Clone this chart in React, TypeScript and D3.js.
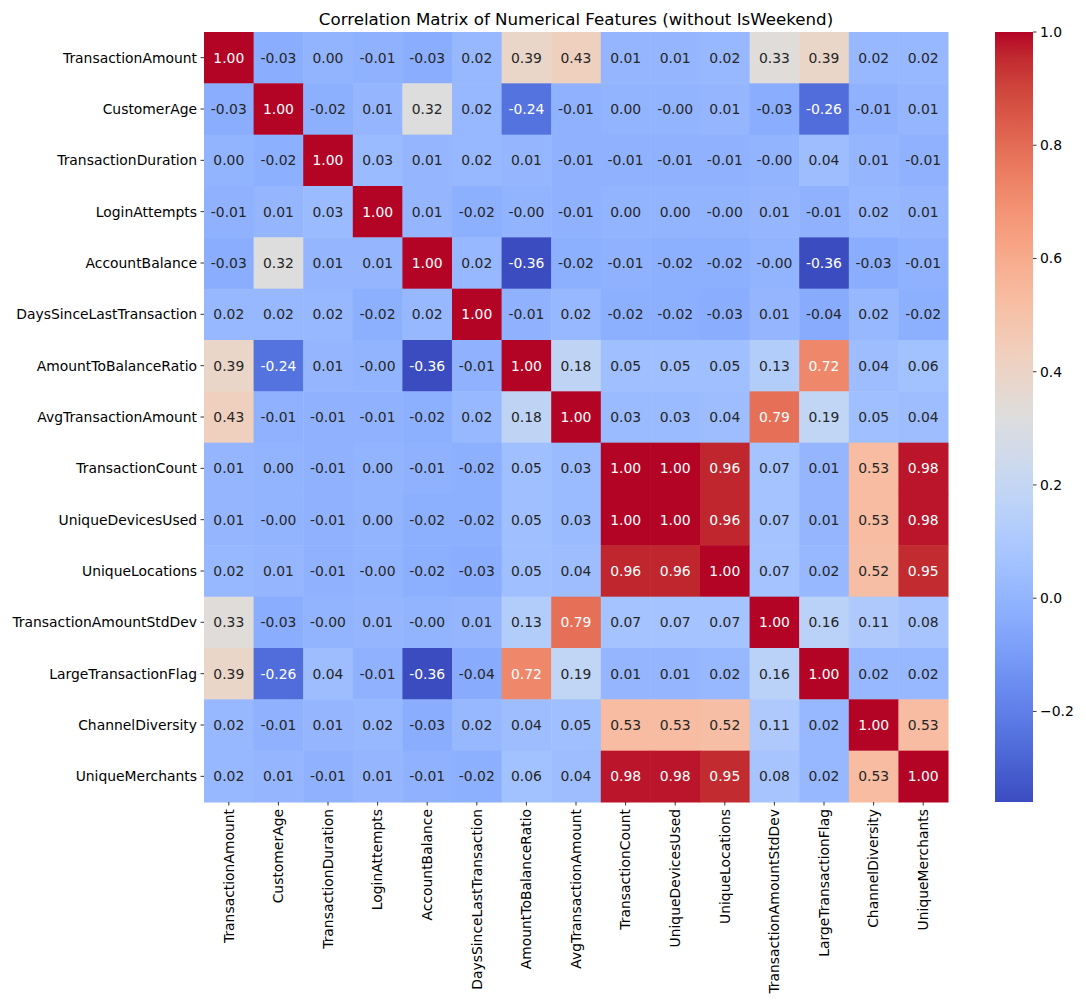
import React from "react";
import * as d3 from "d3";

const features = [
  "TransactionAmount",
  "CustomerAge",
  "TransactionDuration",
  "LoginAttempts",
  "AccountBalance",
  "DaysSinceLastTransaction",
  "AmountToBalanceRatio",
  "AvgTransactionAmount",
  "TransactionCount",
  "UniqueDevicesUsed",
  "UniqueLocations",
  "TransactionAmountStdDev",
  "LargeTransactionFlag",
  "ChannelDiversity",
  "UniqueMerchants",
];

// correlation rows, same order as features (-0 keeps the "-0.00" cells)
const rowTransactionAmount = [1.0, -0.03, 0.0, -0.01, -0.03, 0.02, 0.39, 0.43, 0.01, 0.01, 0.02, 0.33, 0.39, 0.02, 0.02];
const rowCustomerAge = [-0.03, 1.0, -0.02, 0.01, 0.32, 0.02, -0.24, -0.01, 0.0, -0, 0.01, -0.03, -0.26, -0.01, 0.01];
const rowTransactionDuration = [0.0, -0.02, 1.0, 0.03, 0.01, 0.02, 0.01, -0.01, -0.01, -0.01, -0.01, -0, 0.04, 0.01, -0.01];
const rowLoginAttempts = [-0.01, 0.01, 0.03, 1.0, 0.01, -0.02, -0, -0.01, 0.0, 0.0, -0, 0.01, -0.01, 0.02, 0.01];
const rowAccountBalance = [-0.03, 0.32, 0.01, 0.01, 1.0, 0.02, -0.36, -0.02, -0.01, -0.02, -0.02, -0, -0.36, -0.03, -0.01];
const rowDaysSinceLast = [0.02, 0.02, 0.02, -0.02, 0.02, 1.0, -0.01, 0.02, -0.02, -0.02, -0.03, 0.01, -0.04, 0.02, -0.02];
const rowAmountToBalance = [0.39, -0.24, 0.01, -0, -0.36, -0.01, 1.0, 0.18, 0.05, 0.05, 0.05, 0.13, 0.72, 0.04, 0.06];
const rowAvgTransaction = [0.43, -0.01, -0.01, -0.01, -0.02, 0.02, 0.18, 1.0, 0.03, 0.03, 0.04, 0.79, 0.19, 0.05, 0.04];
const rowTransactionCount = [0.01, 0.0, -0.01, 0.0, -0.01, -0.02, 0.05, 0.03, 1.0, 1.0, 0.96, 0.07, 0.01, 0.53, 0.98];
const rowUniqueDevices = [0.01, -0, -0.01, 0.0, -0.02, -0.02, 0.05, 0.03, 1.0, 1.0, 0.96, 0.07, 0.01, 0.53, 0.98];
const rowUniqueLocations = [0.02, 0.01, -0.01, -0, -0.02, -0.03, 0.05, 0.04, 0.96, 0.96, 1.0, 0.07, 0.02, 0.52, 0.95];
const rowAmountStdDev = [0.33, -0.03, -0, 0.01, -0, 0.01, 0.13, 0.79, 0.07, 0.07, 0.07, 1.0, 0.16, 0.11, 0.08];
const rowLargeFlag = [0.39, -0.26, 0.04, -0.01, -0.36, -0.04, 0.72, 0.19, 0.01, 0.01, 0.02, 0.16, 1.0, 0.02, 0.02];
const rowChannelDiversity = [0.02, -0.01, 0.01, 0.02, -0.03, 0.02, 0.04, 0.05, 0.53, 0.53, 0.52, 0.11, 0.02, 1.0, 0.53];
const rowUniqueMerchants = [0.02, 0.01, -0.01, 0.01, -0.01, -0.02, 0.06, 0.04, 0.98, 0.98, 0.95, 0.08, 0.02, 0.53, 1.0];

const matrix = [
  rowTransactionAmount,
  rowCustomerAge,
  rowTransactionDuration,
  rowLoginAttempts,
  rowAccountBalance,
  rowDaysSinceLast,
  rowAmountToBalance,
  rowAvgTransaction,
  rowTransactionCount,
  rowUniqueDevices,
  rowUniqueLocations,
  rowAmountStdDev,
  rowLargeFlag,
  rowChannelDiversity,
  rowUniqueMerchants,
];

const title = "Correlation Matrix of Numerical Features (without IsWeekend)";

// matplotlib "coolwarm" control points
const coolwarm: [number, number, number][] = [
  [0.2298057, 0.298717966, 0.753683153],
  [0.26623388, 0.353094838, 0.801466763],
  [0.30386891, 0.406535296, 0.84495867],
  [0.342804478, 0.458757618, 0.883725899],
  [0.38301334, 0.50941904, 0.917387822],
  [0.424369608, 0.558148092, 0.945619588],
  [0.46666708, 0.604562568, 0.968154911],
  [0.509635204, 0.648280772, 0.98478814],
  [0.552953156, 0.688929332, 0.995375608],
  [0.596262162, 0.726149107, 0.999836203],
  [0.639176211, 0.759599947, 0.998151185],
  [0.681291281, 0.788964712, 0.990363227],
  [0.722193294, 0.813952739, 0.976574709],
  [0.761464949, 0.834302879, 0.956945269],
  [0.798691636, 0.849786142, 0.931688648],
  [0.833466556, 0.860207984, 0.901068838],
  [0.865395197, 0.86541021, 0.865395561],
  [0.897787179, 0.848937047, 0.820880546],
  [0.924127593, 0.827384882, 0.774508472],
  [0.944468518, 0.800927443, 0.726736146],
  [0.958852946, 0.769767752, 0.678007945],
  [0.96732803, 0.734132809, 0.628751763],
  [0.969954137, 0.694266682, 0.579375448],
  [0.966811177, 0.650421156, 0.530263762],
  [0.958003065, 0.602842431, 0.481775914],
  [0.943660866, 0.551750968, 0.434243684],
  [0.923944917, 0.49730856, 0.387970225],
  [0.89904617, 0.439559467, 0.343229596],
  [0.869186849, 0.378313092, 0.300267182],
  [0.834620542, 0.312874446, 0.259301199],
  [0.795631745, 0.24128379, 0.220525627],
  [0.752534934, 0.157246067, 0.184115123],
  [0.705673158, 0.01555616, 0.150232812],
];

const coolwarmInterp = d3.interpolateRgbBasis
  ? d3.piecewise(
      d3.interpolateRgb,
      coolwarm.map(([r, g, b]) => d3.rgb(r * 255, g * 255, b * 255).toString())
    )
  : () => "#ccc";

// same rule seaborn uses to pick annotation colour
const luminance = (c: string) => {
  const { r, g, b } = d3.rgb(c);
  const lin = [r, g, b].map((v) => {
    const s = v / 255;
    return s <= 0.03928 ? s / 12.92 : Math.pow((s + 0.055) / 1.055, 2.4);
  });
  return 0.2126 * lin[0] + 0.7152 * lin[1] + 0.0722 * lin[2];
};

const fmtCell = (v: number) =>
  (v < 0 || Object.is(v, -0) ? "-" : "") + Math.abs(v).toFixed(2);

const App = () => {
  const W = 1086,
    H = 1006;
  const left = 204,
    top = 32,
    mapW = 744,
    mapH = 770;
  const cbX = 995,
    cbW = 38;
  const font = "'DejaVu Sans', sans-serif";

  const all = matrix.flat();
  const [vmin, vmax] = d3.extent(all) as [number, number];

  const color = d3
    .scaleSequential(coolwarmInterp)
    .domain([vmin, vmax]);

  const x = d3.scaleBand().domain(features).range([left, left + mapW]);
  const y = d3.scaleBand().domain(features).range([top, top + mapH]);

  const cbY = d3
    .scaleLinear()
    .domain([vmin, vmax])
    .range([top + mapH, top]);
  const cbTicks = cbY.ticks(7);
  const cbFmt = d3.format(".1f");

  const stops = d3.range(0, 1.0001, 1 / 64);

  return (
    <svg
      width={W}
      height={H}
      style={{ position: "absolute", left: 0, top: 0, background: "#fff" }}
      fontFamily={font}
    >
      <defs>
        <linearGradient id="cbar" x1="0" y1="1" x2="0" y2="0">
          {stops.map((t, i) => (
            <stop key={i} offset={t} stopColor={coolwarmInterp(t)} />
          ))}
        </linearGradient>
      </defs>

      <text x={left + mapW / 2} y={24.5} textAnchor="middle" fontSize={16.67} fill="#000">
        {title}
      </text>

      {matrix.map((row, i) =>
        row.map((v, j) => {
          const fill = color(v);
          const cx = x(features[j])! + x.bandwidth() / 2;
          const cy = y(features[i])! + y.bandwidth() / 2;
          return (
            <g key={`${i}-${j}`}>
              <rect
                x={x(features[j])}
                y={y(features[i])}
                width={x.bandwidth() + 0.5}
                height={y.bandwidth() + 0.5}
                fill={fill}
              />
              <text
                x={cx}
                y={cy}
                dy="0.35em"
                textAnchor="middle"
                fontSize={13.9}
                fill={luminance(fill) > 0.408 ? "#262626" : "#ffffff"}
              >
                {fmtCell(v)}
              </text>
            </g>
          );
        })
      )}

      {features.map((f) => {
        const cy = y(f)! + y.bandwidth() / 2;
        return (
          <g key={`r-${f}`}>
            <line x1={left - 3.5} x2={left} y1={cy} y2={cy} stroke="#000" strokeWidth={0.8} />
            <text x={left - 7} y={cy} dy="0.35em" textAnchor="end" fontSize={13.9} fill="#000">
              {f}
            </text>
          </g>
        );
      })}

      {features.map((f) => {
        const cx = x(f)! + x.bandwidth() / 2;
        const by = top + mapH;
        return (
          <g key={`c-${f}`}>
            <line x1={cx} x2={cx} y1={by} y2={by + 3.5} stroke="#000" strokeWidth={0.8} />
            <text
              transform={`translate(${cx},${by + 7}) rotate(-90)`}
              dy="0.35em"
              textAnchor="end"
              fontSize={13.9}
              fill="#000"
            >
              {f}
            </text>
          </g>
        );
      })}

      <rect x={cbX} y={top} width={cbW} height={mapH} fill="url(#cbar)" />
      {cbTicks.map((t) => (
        <g key={`cb-${t}`}>
          <line
            x1={cbX + cbW}
            x2={cbX + cbW + 3.5}
            y1={cbY(t)}
            y2={cbY(t)}
            stroke="#000"
            strokeWidth={0.8}
          />
          <text x={cbX + cbW + 7} y={cbY(t)} dy="0.35em" fontSize={13.9} fill="#000">
            {cbFmt(t)}
          </text>
        </g>
      ))}
    </svg>
  );
};

export default App;
